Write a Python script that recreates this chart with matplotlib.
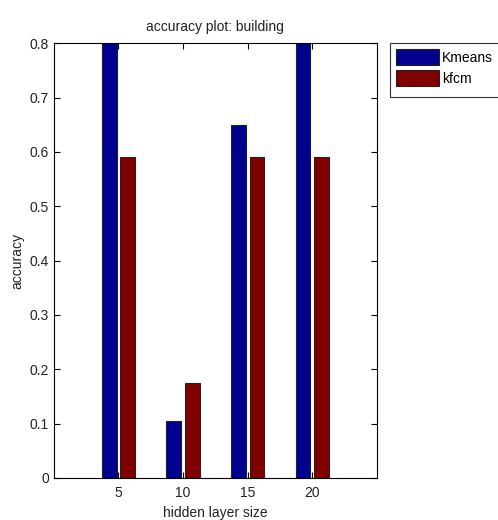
import numpy as np
import matplotlib
matplotlib.use('Agg')
import matplotlib.pyplot as plt
from matplotlib.lines import Line2D

# Values
layer_sizes = [5, 10, 15, 20]
kmeans_acc = [0.80, 0.105, 0.65, 0.80]
kfcm_acc = [0.59, 0.175, 0.59, 0.59]
series_names = ['Kmeans', 'kfcm']

plt.rcParams['font.family'] = ['Liberation Sans', 'DejaVu Sans']
plt.rcParams['font.size'] = 10

fig = plt.figure(figsize=(4.98, 5.2), dpi=100)
ax = fig.add_axes([0.108, 0.081, 0.649, 0.836])

x = np.array(layer_sizes, dtype=float)
width = 1.15
ax.bar(x - 0.72, kmeans_acc, width, color='#00008F', edgecolor='#222222',
       linewidth=0.8, label=series_names[0])
ax.bar(x + 0.72, kfcm_acc, width, color='#800000', edgecolor='#222222',
       linewidth=0.8, label=series_names[1])

ax.set_xlim(0, 25)
ax.set_ylim(0, 0.8)
ax.set_xticks(layer_sizes)
ax.set_yticks(np.arange(0, 0.81, 0.1))
ax.set_yticklabels(['0', '0.1', '0.2', '0.3', '0.4', '0.5', '0.6', '0.7', '0.8'])
ax.tick_params(direction='in', top=True, right=True, length=4, labelsize=10,
               labelcolor='#222222')
ax.tick_params(axis='x', pad=6)
for s in ax.spines.values():
    s.set_linewidth(0.8)

ax.set_title('accuracy plot: building', fontsize=10, pad=9, color='#222222')
ax.set_xlabel('hidden layer size', fontsize=10, labelpad=4, color='#222222')
ax.set_ylabel('accuracy', fontsize=10, labelpad=4, color='#222222')

# legend frame runs off the right edge of the figure like the original
top = 1 - 43 / 520
bot = 1 - 97 / 520
lx = 390 / 498
fig.add_artist(Line2D([1.0, lx, lx, 1.0], [top, top, bot, bot],
                      transform=fig.transFigure, color='#333333', lw=0.8))
fig.legend(loc='upper left', bbox_to_anchor=(lx, top),
           fontsize=10, frameon=False, handlelength=3.1, handleheight=1.4,
           borderaxespad=0, borderpad=0.45, handletextpad=0.2,
           labelspacing=0.35)

fig.savefig('out.png', dpi=100)
